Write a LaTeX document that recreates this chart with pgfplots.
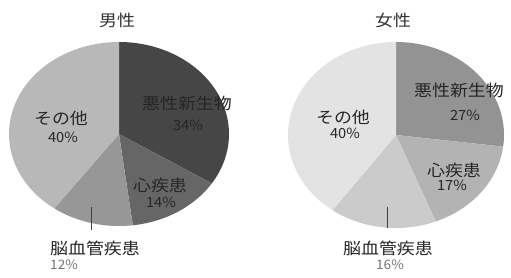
\documentclass[border=0pt]{standalone}
\usepackage{pgfplots}
\pgfplotsset{compat=1.18}
\usepackage{fontspec}
\newfontfamily\cjk[FakeStretch=1.12]{Noto Sans CJK JP}
\newfontfamily\num[FakeStretch=1.05]{Noto Sans CJK JP}
\definecolor{mA}{HTML}{464646}
\definecolor{mB}{HTML}{666666}
\definecolor{mC}{HTML}{979797}
\definecolor{mD}{HTML}{B8B8B8}
\definecolor{fA}{HTML}{939393}
\definecolor{fB}{HTML}{B3B3B3}
\definecolor{fC}{HTML}{CBCBCB}
\definecolor{fD}{HTML}{E3E3E3}
% slice: cx, cy, rx, ry, start %, end %, colour
\newcommand\slice[7]{%
  \addplot[fill=#7, draw=none, domain={90-3.6*(#6)}:{90-3.6*(#5)}, samples=80, forget plot]
    ({#1+#3*cos(x)},{#2+#4*sin(x)}) -- (axis cs:#1,#2) -- cycle;}
\begin{document}
\begin{tikzpicture}
\begin{axis}[
  at={(0,0)}, anchor=south west,
  width=511pt, height=277pt, scale only axis,
  xmin=0, xmax=511, ymin=0, ymax=277,
  hide axis, clip=false,
]
% 男性: 悪性新生物 34, 心疾患 14, 脳血管疾患 12, その他 40
\slice{119}{143}{110}{92}{0}{34}{mA}
\slice{119}{143}{110}{92}{34}{48}{mB}
\slice{119}{143}{110}{92}{48}{60}{mC}
\slice{119}{143}{110}{92}{60}{100}{mD}
% 女性: 悪性新生物 27, 心疾患 17, 脳血管疾患 16, その他 40
\slice{396}{142}{108}{93}{0}{27}{fA}
\slice{396}{142}{108}{93}{27}{44}{fB}
\slice{396}{142}{108}{93}{44}{60}{fC}
\slice{396}{142}{108}{93}{60}{100}{fD}
% leader lines
\addplot[black!75, line width=0.8pt, forget plot] coordinates {(91,70) (91,47)};
\addplot[black!75, line width=0.8pt, forget plot] coordinates {(387,70) (387,49)};
% titles
\node[font=\cjk\fontsize{16}{16}\selectfont, text=black!80] at (axis cs:117,257) {男性};
\node[font=\cjk\fontsize{16}{16}\selectfont, text=black!80] at (axis cs:393,257) {女性};
% labels male
\node[font=\cjk\fontsize{16}{16}\selectfont, text=black!85] at (axis cs:187,174) {悪性新生物};
\node[font=\num\fontsize{14}{14}\selectfont, text=black!85] at (axis cs:188,152) {34\%};
\node[font=\cjk\fontsize{16}{16}\selectfont, text=black!85] at (axis cs:160,92) {心疾患};
\node[font=\num\fontsize{14}{14}\selectfont, text=black!85] at (axis cs:161,75) {14\%};
\node[font=\cjk\fontsize{16}{16}\selectfont, text=black!85] at (axis cs:61,159) {その他};
\node[font=\num\fontsize{14}{14}\selectfont, text=black!85] at (axis cs:63,140) {40\%};
\node[font=\cjk\fontsize{16}{16}\selectfont, text=black!85, anchor=west, inner sep=0pt] at (axis cs:50,29) {脳血管疾患};
\node[font=\num\fontsize{13}{13}\selectfont, text=black!55, anchor=west, inner sep=0pt] at (axis cs:50,12) {12\%};
% labels female
\node[font=\cjk\fontsize{16}{16}\selectfont, text=black!85] at (axis cs:459,187) {悪性新生物};
\node[font=\num\fontsize{14}{14}\selectfont, text=black!85] at (axis cs:465,162) {27\%};
\node[font=\cjk\fontsize{16}{16}\selectfont, text=black!85] at (axis cs:454,107) {心疾患};
\node[font=\num\fontsize{14}{14}\selectfont, text=black!85] at (axis cs:452,92) {17\%};
\node[font=\cjk\fontsize{16}{16}\selectfont, text=black!85] at (axis cs:343,160) {その他};
\node[font=\num\fontsize{14}{14}\selectfont, text=black!85] at (axis cs:345,144) {40\%};
\node[font=\cjk\fontsize{16}{16}\selectfont, text=black!85] at (axis cs:388,29) {脳血管疾患};
\node[font=\num\fontsize{13}{13}\selectfont, text=black!55] at (axis cs:390,12) {16\%};
\end{axis}
\path (0,0) rectangle (511pt,277pt);
\end{tikzpicture}
\end{document}
